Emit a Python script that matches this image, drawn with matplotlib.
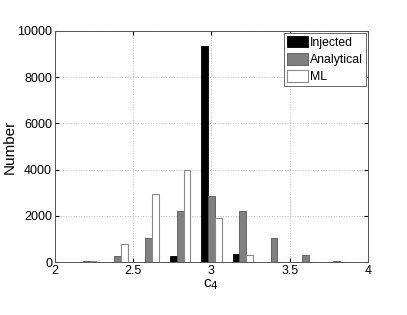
import matplotlib
matplotlib.use("Agg")
import matplotlib.pyplot as plt
import numpy as np

plt.rcParams['font.family'] = ['Liberation Sans', 'DejaVu Sans']

# bin centres and counts
centers = [2.2, 2.4, 2.6, 2.8, 3.0, 3.2, 3.4, 3.6, 3.8]
injected = [0, 0, 0, 270, 9350, 370, 0, 0, 0]
analytical = [40, 270, 1050, 2220, 2870, 2230, 1020, 290, 40]
ml = [40, 780, 2940, 3990, 1910, 320, 20, 0, 0]

w = 0.043
x = np.array(centers)

fig = plt.figure(figsize=(4.07, 3.15), dpi=100)
ax = fig.add_axes([0.135, 0.168, 0.769, 0.734])

ax.bar(x - w, injected, width=w, color='black', edgecolor='black', linewidth=0.6, label='Injected', zorder=3)
ax.bar(x, analytical, width=w, color='#808080', edgecolor='#555555', linewidth=0.6, label='Analytical', zorder=3)
ax.bar(x + w, ml, width=w, color='white', edgecolor='#888888', linewidth=0.8, label='ML', zorder=3)

ax.set_xlim(2, 4)
ax.set_ylim(0, 10000)
ax.set_xticks([2, 2.5, 3, 3.5, 4])
ax.set_xticklabels(['2', '2.5', '3', '3.5', '4'])
ax.set_yticks(range(0, 10001, 2000))
ax.tick_params(direction='in', top=True, right=True, labelsize=9, length=3, pad=2)
ax.grid(True, linestyle=':', color='#bbbbbb', linewidth=0.7, zorder=0)
for s in ax.spines.values():
    s.set_color('#555555')
    s.set_linewidth(0.7)

ax.set_xlabel('c$_4$', fontsize=11, labelpad=0)
ax.set_ylabel('Number', fontsize=11)
ax.yaxis.set_label_coords(-0.122, 0.5)

leg = ax.legend(loc='upper right', fontsize=8.8, fancybox=False, framealpha=1,
                edgecolor='#666666', borderpad=0.25, handlelength=1.7, handleheight=1.1,
                handletextpad=0.2, labelspacing=0.35, borderaxespad=0.15)
leg.get_frame().set_linewidth(0.7)

fig.savefig('out.png', dpi=100)
